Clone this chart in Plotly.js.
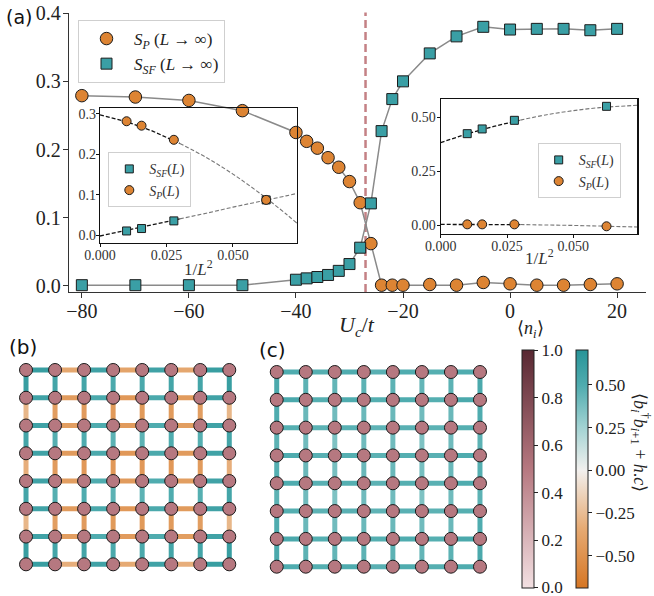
<!DOCTYPE html>
<html><head><meta charset="utf-8">
<script src="https://cdn.plot.ly/plotly-3.0.1.min.js"></script>
<style>html,body{margin:0;padding:0;background:#fff}#chart{width:654px;height:596px}</style>
</head><body><div id="chart"></div>
<script>
// ===== Panel (a): main data =====
const Uc = [-80,-70,-60,-50,-40,-38,-36,-34,-32,-30,-28,-26,-24,-22,-20,-15,-10,-5,0,5,10,15,20];
const SP_inf = [0.279,0.277,0.272,0.257,0.225,0.212,0.202,0.188,0.174,0.153,0.122,0.062,0.001,0.001,0.001,0.002,0.001,0.005,0.003,0.001,0.001,0.002,0.003];
const SSF_inf = [0.001,0.001,0.001,0.001,0.009,0.011,0.013,0.016,0.022,0.032,0.056,0.121,0.227,0.274,0.300,0.341,0.366,0.380,0.376,0.377,0.377,0.375,0.377];
const Uc_transition = -27;
const mainXTicks = [-80,-60,-40,-20,0,20];
const mainYTicks = [0.0,0.1,0.2,0.3,0.4];

// ===== Insets: finite-size scaling =====
const invL2 = [0.01, 0.015625, 0.027778, 0.0625];
const leftIn_SSF = [0.010, 0.016, 0.035, 0.087];
const leftIn_SP  = [0.282, 0.271, 0.236, 0.087];
const rightIn_SSF = [0.424, 0.446, 0.486, 0.551];
const rightIn_SP  = [0.003, 0.003, 0.003, -0.006];

// fit curves (fitted part, extension)
const fitX_in  = [0, 0.01, 0.02, 0.03];
const fitX_out = [0.03, 0.04, 0.05, 0.06, 0.07, 0.0741];
const leftFit_SP_in   = [0.298, 0.281, 0.257, 0.227];
const leftFit_SP_out  = [0.227, 0.192, 0.151, 0.104, 0.052, 0.029];
const leftFit_SSF_in  = [-0.0025, 0.012, 0.026, 0.040];
const leftFit_SSF_out = [0.040, 0.054, 0.069, 0.083, 0.097, 0.103];
const rightFit_SSF_in  = [0.383, 0.423, 0.458, 0.487];
const rightFit_SSF_out = [0.487, 0.512, 0.531, 0.545, 0.553, 0.556];
const rightFit_SP_in   = [0.0025, 0.003, 0.003, 0.002];
const rightFit_SP_out  = [0.002, 0.000, -0.002, -0.005, -0.008, -0.009];

// ===== Panels (b), (c): lattice data =====
const nB = [
 [0.5,0.5,0.5,0.5,0.5,0.5,0.5,0.5],[0.5,0.5,0.5,0.5,0.5,0.5,0.5,0.5],
 [0.5,0.5,0.5,0.5,0.5,0.5,0.5,0.5],[0.5,0.5,0.5,0.5,0.5,0.5,0.5,0.5],
 [0.5,0.5,0.5,0.5,0.5,0.5,0.5,0.5],[0.5,0.5,0.5,0.5,0.5,0.5,0.5,0.5],
 [0.5,0.5,0.5,0.5,0.5,0.5,0.5,0.5],[0.5,0.5,0.5,0.5,0.5,0.5,0.5,0.5]];
const nC = [
 [0.5,0.5,0.5,0.5,0.5,0.5,0.5,0.5],[0.5,0.5,0.5,0.5,0.5,0.5,0.5,0.5],
 [0.5,0.5,0.5,0.5,0.5,0.5,0.5,0.5],[0.5,0.5,0.5,0.5,0.5,0.5,0.5,0.5],
 [0.5,0.5,0.5,0.5,0.5,0.5,0.5,0.5],[0.5,0.5,0.5,0.5,0.5,0.5,0.5,0.5],
 [0.5,0.5,0.5,0.5,0.5,0.5,0.5,0.5],[0.5,0.5,0.5,0.5,0.5,0.5,0.5,0.5]];
// horizontal bonds: 8 rows x 7
const bondB_h = [
 [0.62,-0.36,0.58,-0.38,0.58,-0.36,0.62],
 [0.58,-0.44,0.52,-0.46,0.52,-0.44,0.58],
 [0.58,-0.42,0.50,-0.44,0.50,-0.42,0.58],
 [0.58,-0.44,0.52,-0.46,0.52,-0.44,0.58],
 [0.58,-0.42,0.50,-0.44,0.50,-0.42,0.58],
 [0.58,-0.44,0.52,-0.46,0.52,-0.44,0.58],
 [0.58,-0.42,0.50,-0.44,0.50,-0.42,0.58],
 [0.62,-0.32,0.58,-0.34,0.58,-0.32,0.62]];
// vertical bonds: 7 rows x 8
const bondB_v = [
 [0.62,0.56,0.56,0.52,0.52,0.56,0.56,0.62],
 [-0.28,-0.42,-0.44,-0.45,-0.45,-0.44,-0.42,-0.28],
 [0.56,0.48,0.50,0.46,0.46,0.50,0.48,0.56],
 [-0.32,-0.44,-0.46,-0.46,-0.46,-0.46,-0.44,-0.32],
 [0.56,0.48,0.50,0.46,0.46,0.50,0.48,0.56],
 [-0.28,-0.42,-0.44,-0.45,-0.45,-0.44,-0.42,-0.28],
 [0.62,0.56,0.56,0.52,0.52,0.56,0.56,0.62]];
const bondC_h = [
 [0.50,0.48,0.50,0.47,0.50,0.48,0.50],
 [0.52,0.48,0.50,0.48,0.50,0.48,0.52],
 [0.48,0.46,0.47,0.45,0.47,0.46,0.48],
 [0.50,0.47,0.48,0.46,0.48,0.47,0.50],
 [0.50,0.47,0.48,0.46,0.48,0.47,0.50],
 [0.48,0.46,0.47,0.45,0.47,0.46,0.48],
 [0.52,0.48,0.50,0.48,0.50,0.48,0.52],
 [0.50,0.48,0.50,0.47,0.50,0.48,0.50]];
const bondC_v = [
 [0.52,0.46,0.44,0.46,0.46,0.44,0.46,0.52],
 [0.50,0.42,0.40,0.42,0.42,0.40,0.42,0.50],
 [0.46,0.40,0.36,0.40,0.40,0.36,0.40,0.46],
 [0.48,0.42,0.38,0.42,0.42,0.38,0.42,0.48],
 [0.46,0.40,0.36,0.40,0.40,0.36,0.40,0.46],
 [0.50,0.42,0.40,0.42,0.42,0.40,0.42,0.50],
 [0.52,0.46,0.44,0.46,0.46,0.44,0.46,0.52]];
const nTicks = [0,0.2,0.4,0.6,0.8,1.0];
const nRange = [-0.002, 1.002];
const bondTicks = [-0.5,-0.25,0,0.25,0.5];
const bondRange = [-0.69, 0.705];

// ===== styles =====
const W = 654, H = 596;
const px = p => p / W, py = p => 1 - p / H;
const SERIF = 'Liberation Serif';
const SANS = 'DejaVu Sans';
const ORANGE = '#dd8433', TEAL = '#3a9fa5', EDGE = '#1c1c1c';
const nScale = [[0,'rgb(242,224,226)'],[0.5,'rgb(182,120,128)'],[1,'rgb(88,40,50)']];
const bScale = [[0,'rgb(214,118,36)'],[0.25,'rgb(230,170,115)'],[0.495,'rgb(242,240,238)'],[0.68,'rgb(160,210,210)'],[0.85,'rgb(80,172,175)'],[1,'rgb(40,148,152)']];

function scaleColor(scale, t){
  t = Math.max(0, Math.min(1, t));
  for (let i=1;i<scale.length;i++){
    if (t <= scale[i][0]){
      const [t0,c0] = scale[i-1], [t1,c1] = scale[i];
      const a = c0.match(/\d+/g).map(Number), b = c1.match(/\d+/g).map(Number);
      const f = (t - t0)/(t1 - t0);
      return 'rgb(' + a.map((v,k)=>Math.round(v + f*(b[k]-v))).join(',') + ')';
    }
  }
  return scale[scale.length-1][1];
}
const bondColor = v => scaleColor(bScale, (v - bondRange[0])/(bondRange[1]-bondRange[0]));

const traces = [];
// main lines
traces.push({x:Uc, y:SP_inf, mode:'lines', line:{color:'#8a8a8a', width:1.5}, showlegend:false, hoverinfo:'skip'});
traces.push({x:Uc, y:SSF_inf, mode:'lines', line:{color:'#8a8a8a', width:1.5}, showlegend:false, hoverinfo:'skip'});
traces.push({x:Uc, y:SP_inf, mode:'markers', name:'<i>S</i><sub><i>P</i></sub> (<i>L</i> → ∞)', legend:'legend',
  marker:{symbol:'circle', size:12.5, color:ORANGE, line:{color:EDGE, width:1}}});
traces.push({x:Uc, y:SSF_inf, mode:'markers', name:'<i>S</i><sub><i>SF</i></sub> (<i>L</i> → ∞)', legend:'legend',
  marker:{symbol:'square', size:11, color:TEAL, line:{color:EDGE, width:1}}});

// insets
function insetTraces(xa, ya, lg, ssf, sp, fSSFin, fSSFout, fSPin, fSPout){
  const dashIn = {color:'#111', width:1.3, dash:'4px,2px'};
  const dashOut = {color:'#777', width:1.1, dash:'4px,2px', shape:'spline'};
  return [
    {x:fitX_in, y:fSPin, xaxis:xa, yaxis:ya, mode:'lines', line:dashIn, showlegend:false, hoverinfo:'skip'},
    {x:fitX_out, y:fSPout, xaxis:xa, yaxis:ya, mode:'lines', line:dashOut, showlegend:false, hoverinfo:'skip'},
    {x:fitX_in, y:fSSFin, xaxis:xa, yaxis:ya, mode:'lines', line:dashIn, showlegend:false, hoverinfo:'skip'},
    {x:fitX_out, y:fSSFout, xaxis:xa, yaxis:ya, mode:'lines', line:dashOut, showlegend:false, hoverinfo:'skip'},
    {x:invL2, y:ssf, xaxis:xa, yaxis:ya, mode:'markers', legend:lg, name:'<i>S</i><sub><i>SF</i></sub>(<i>L</i>)',
      marker:{symbol:'square', size:8, color:TEAL, line:{color:EDGE, width:1}}},
    {x:invL2, y:sp, xaxis:xa, yaxis:ya, mode:'markers', legend:lg, name:'<i>S</i><sub><i>P</i></sub>(<i>L</i>)',
      marker:{symbol:'circle', size:9, color:ORANGE, line:{color:EDGE, width:1}}}
  ];
}
traces.push(...insetTraces('x2','y2','legend2', leftIn_SSF, leftIn_SP, leftFit_SSF_in, leftFit_SSF_out, leftFit_SP_in, leftFit_SP_out));
traces.push(...insetTraces('x3','y3','legend3', rightIn_SSF, rightIn_SP, rightFit_SSF_in, rightFit_SSF_out, rightFit_SP_in, rightFit_SP_out));

// lattices
function latticeTraces(hV, vV, n, xa, ya, withScale){
  const out = [];
  hV.forEach((row,r)=>row.forEach((v,c)=>out.push({x:[c,c+1], y:[r,r], xaxis:xa, yaxis:ya, mode:'lines',
     line:{color:bondColor(v), width:5}, showlegend:false, hoverinfo:'skip'})));
  vV.forEach((row,r)=>row.forEach((v,c)=>out.push({x:[c,c], y:[r,r+1], xaxis:xa, yaxis:ya, mode:'lines',
     line:{color:bondColor(v), width:5}, showlegend:false, hoverinfo:'skip'})));
  const xs=[], ys=[], cs=[];
  n.forEach((row,r)=>row.forEach((v,c)=>{xs.push(c); ys.push(r); cs.push(v);}));
  out.push({x:xs, y:ys, xaxis:xa, yaxis:ya, mode:'markers', showlegend:false, hoverinfo:'skip',
    marker:{size:13, color:cs, colorscale:nScale, cmin:nRange[0], cmax:nRange[1], line:{color:EDGE, width:1},
      showscale:withScale,
      colorbar:{thickness:12, thicknessmode:'pixels', len:238, lenmode:'pixels', x:px(521.7), xanchor:'left', xpad:0,
        y:py(350), yanchor:'top', ypad:0, outlinecolor:'#222', outlinewidth:1, tickvals:nTicks, tickformat:'.1f',
        ticklabeloverflow:'allow',
        ticks:'outside', ticklen:4, tickcolor:'#222', tickfont:{family:SERIF, size:17, color:'#222'}}}});
  return out;
}
traces.push(...latticeTraces(bondB_h, bondB_v, nB, 'x4','y4', true));
traces.push(...latticeTraces(bondC_h, bondC_v, nC, 'x5','y5', false));
// colorbar for bond expectation values
const allBonds = [].concat(...bondB_h, ...bondB_v, ...bondC_h, ...bondC_v);
traces.push({x:allBonds.map(()=>3.5), y:allBonds.map(()=>3.5), xaxis:'x5', yaxis:'y5', mode:'markers', showlegend:false, hoverinfo:'skip',
  marker:{size:1, opacity:0, color:allBonds, colorscale:bScale, cmin:bondRange[0], cmax:bondRange[1], showscale:true,
    colorbar:{thickness:12, thicknessmode:'pixels', len:238, lenmode:'pixels', x:px(575.7), xanchor:'left', xpad:0,
      y:py(350), yanchor:'top', ypad:0, outlinecolor:'#222', outlinewidth:1, tickvals:bondTicks, tickformat:'.2f',
      ticklabeloverflow:'allow',
      ticks:'outside', ticklen:4, tickcolor:'#222', tickfont:{family:SERIF, size:17, color:'#222'}}}});

const insetAxis = (extra) => Object.assign({showline:true, mirror:true, linecolor:'#111', linewidth:1.2, ticks:'outside', ticklen:3,
  tickcolor:'#111', showgrid:false, zeroline:false, tickfont:{family:SERIF, size:14, color:'#333'}, fixedrange:true}, extra);
const hidden = (extra) => Object.assign({visible:false, showgrid:false, zeroline:false, fixedrange:true}, extra);

const legendBase = {xanchor:'left', yanchor:'top', bgcolor:'rgba(255,255,255,0.85)', bordercolor:'#cfcfcf', borderwidth:1, tracegroupgap:0};

const layout = {
  width:W, height:H, margin:{l:0,r:0,t:0,b:0}, paper_bgcolor:'#fff', plot_bgcolor:'rgba(0,0,0,0)',
  font:{family:SERIF},
  xaxis:{domain:[px(69),px(646)], range:[-82.4,25.4], anchor:'y', showline:true, linecolor:'#333', linewidth:1.3,
    ticks:'outside', ticklen:5, tickcolor:'#333', tickvals:mainXTicks, showgrid:false, zeroline:false, ticklabelstandoff:-4,
    tickfont:{family:SERIF, size:20, color:'#222'}},
  yaxis:{domain:[py(292),py(12.5)], range:[-0.009,0.401], anchor:'x', showline:true, linecolor:'#333', linewidth:1.3,
    ticks:'outside', ticklen:5, tickcolor:'#333', tickvals:mainYTicks, tickformat:'.1f', showgrid:false, zeroline:false, ticklabelstandoff:-2,
    tickfont:{family:SERIF, size:20, color:'#222'}},
  xaxis2:insetAxis({domain:[px(100),px(297)], range:[0,0.0741], anchor:'y2', tickvals:[0,0.025,0.05], tickformat:'.3f', ticklabelstandoff:-4}),
  yaxis2:insetAxis({domain:[py(242.7),py(108.3)], range:[-0.0191,0.3141], anchor:'x2', tickvals:[0,0.1,0.2,0.3], tickformat:'.1f', ticklabelstandoff:-3}),
  xaxis3:insetAxis({domain:[px(440.7),px(637.3)], range:[0,0.0741], anchor:'y3', tickvals:[0,0.025,0.05], tickformat:'.3f', ticklabelstandoff:-4}),
  yaxis3:insetAxis({domain:[py(234),py(99.3)], range:[-0.0418,0.5836], anchor:'x3', tickvals:[0,0.25,0.5], tickformat:'.2f', ticklabelstandoff:-2}),
  xaxis4:hidden({domain:[px(11.5),px(243.8)], range:[-0.5,7.5], anchor:'y4'}),
  yaxis4:hidden({domain:[py(578.2),py(356.1)], range:[7.5,-0.5], anchor:'x4'}),
  xaxis5:hidden({domain:[px(262.2),px(494.5)], range:[-0.5,7.5], anchor:'y5'}),
  yaxis5:hidden({domain:[py(580.6),py(358.1)], range:[7.5,-0.5], anchor:'x5'}),
  legend:Object.assign({x:px(78), y:py(20), itemwidth:45, font:{family:SERIF, size:17, color:'#222'}}, legendBase),
  legend2:Object.assign({x:px(108.3), y:py(152.3), font:{family:SERIF, size:14, color:'#333'}}, legendBase),
  legend3:Object.assign({x:px(537.7), y:py(143.3), font:{family:SERIF, size:14, color:'#333'}}, legendBase),
  shapes:[{type:'line', xref:'x', yref:'y domain', x0:Uc_transition, x1:Uc_transition, y0:0, y1:1, layer:'below',
    line:{color:'rgba(190,115,120,0.9)', width:2.5, dash:'8px,4px'}}],
  annotations:[
    {text:'(a)', x:px(4), y:py(17), xref:'paper', yref:'paper', xanchor:'left', yanchor:'middle', showarrow:false, font:{family:SANS, size:19, color:'#111'}},
    {text:'(b)', x:px(7), y:py(347), xref:'paper', yref:'paper', xanchor:'left', yanchor:'middle', showarrow:false, font:{family:SANS, size:20, color:'#111'}},
    {text:'(c)', x:px(257), y:py(350), xref:'paper', yref:'paper', xanchor:'left', yanchor:'middle', showarrow:false, font:{family:SANS, size:20, color:'#111'}},
    {text:'<i>U</i><sub><i>c</i></sub>/<i>t</i>', x:px(357), y:py(326), xref:'paper', yref:'paper', xanchor:'center', yanchor:'middle', showarrow:false, font:{family:SERIF, size:22, color:'#222'}},
    {text:'1/<i>L</i><sup>2</sup>', x:px(198), y:py(268), xref:'paper', yref:'paper', xanchor:'center', yanchor:'middle', showarrow:false, font:{family:SERIF, size:17, color:'#333'}},
    {text:'1/<i>L</i><sup>2</sup>', x:px(539), y:py(257), xref:'paper', yref:'paper', xanchor:'center', yanchor:'middle', showarrow:false, font:{family:SERIF, size:17, color:'#333'}},
    {text:'⟨<i>n</i><sub><i>i</i></sub>⟩', x:px(530), y:py(329), xref:'paper', yref:'paper', xanchor:'center', yanchor:'middle', showarrow:false, font:{family:SERIF, size:18, color:'#222'}},
    {text:'⟨<i>b</i><sub><i>i</i></sub><sup>†</sup><i>b</i><sub><i>i</i>+1</sub> + <i>h</i>.<i>c</i>⟩', x:px(641), y:py(442), xref:'paper', yref:'paper', xanchor:'center', yanchor:'middle', textangle:90, showarrow:false, font:{family:SERIF, size:18, color:'#222'}}
  ]
};

Plotly.newPlot('chart', traces, layout, {displayModeBar:false, staticPlot:true});
</script>
</body></html>
